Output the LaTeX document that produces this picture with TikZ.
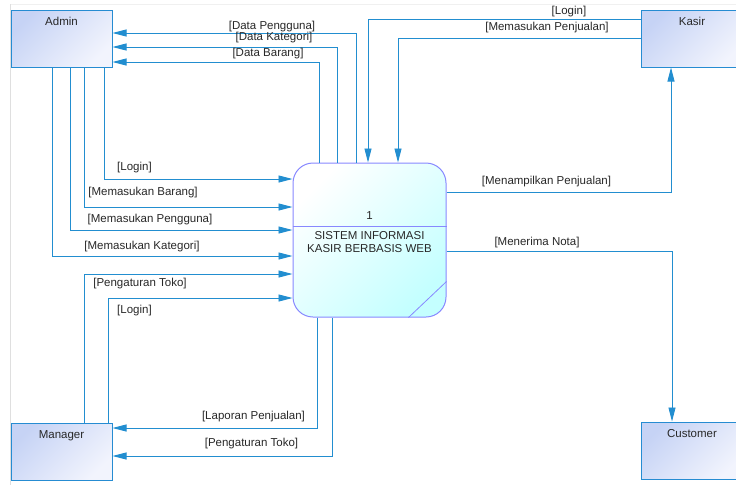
\documentclass[tikz,border=0pt]{standalone}
\usepackage{fontspec}
\setmainfont{Liberation Sans}
\usepackage{xcolor}
\usetikzlibrary{arrows.meta}

\definecolor{flowblue}{RGB}{34,142,208}
\definecolor{entborder}{RGB}{38,140,210}
\definecolor{entA}{RGB}{198,211,245}
\definecolor{entB}{RGB}{242,244,253}
\definecolor{procborder}{RGB}{136,136,255}
\definecolor{proccyan}{RGB}{196,255,255}
\definecolor{txtgray}{RGB}{40,40,40}

\begin{document}
\begin{tikzpicture}[x=1pt, y=-1pt,
  every node/.style={font=\fontsize{11.5}{13}\selectfont, text=txtgray},
  entity/.style={draw=entborder, line width=1pt, top color=entA, bottom color=entB,
    shading angle=45, minimum width=101pt, inner sep=3pt, text height=12pt, text depth=39pt},
  proc/.style={draw=procborder, line width=1pt, rounded corners=20pt, top color=white,
    bottom color=proccyan, shading angle=45, minimum width=153pt, minimum height=154pt},
  flow/.style={draw=flowblue, line width=0.9pt, -{Triangle[length=14pt,width=7pt]}},
  lbl/.style={inner sep=0pt}]

  % Frame
  \clip (0,0) rectangle (736,485);
  \fill[white] (0,0) rectangle (736,485);
  \draw[gray!25, line width=1.5pt] (10.5,4) -- (10.5,485);
  \draw[gray!12] (10.5,4) -- (736,4);

  % Entities
  \node[entity] (admin) at (61.5,38.5) {Admin};
  \node[entity] (kasir) at (692,38.5) {Kasir};
  \node[entity] (manager) at (61.5,451.5) {Manager};
  \node[entity] (customer) at (692,450.5) {Customer};

  % Process
  \node[proc] (proc) at (369.5,240) {};
  \draw[procborder, line width=0.8pt] ([yshift=14pt]proc.west) -- ([yshift=14pt]proc.east);
  \draw[procborder, line width=0.8pt] ([xshift=-38pt]proc.south east) -- ([yshift=36pt]proc.south east);
  \node (procno) at ([yshift=24pt]proc.center) {1};
  \node[align=center] (procname) at ([yshift=-2.5pt]proc.center) {SISTEM INFORMASI\\KASIR BERBASIS WEB};

  % Process -> Admin
  \draw[flow] ([xshift=-13.5pt]proc.north) |- ([yshift=5.5pt]admin.east);
  \draw[flow] ([xshift=-32.5pt]proc.north) |- ([yshift=-8.5pt]admin.east);
  \draw[flow] ([xshift=-50.5pt]proc.north) |- ([yshift=-23.5pt]admin.east);
  \node[lbl] (lDataPengguna) at (272,26.5) {[Data Pengguna]};
  \node[lbl] (lDataKategori) at (274,38) {[Data Kategori]};
  \node[lbl] (lDataBarang) at (268,54) {[Data Barang]};

  % Admin -> Process
  \draw[flow] ([xshift=42.5pt]admin.south) |- ([yshift=61pt]proc.west);
  \draw[flow] ([xshift=22.5pt]admin.south) |- ([yshift=33pt]proc.west);
  \draw[flow] ([xshift=8.5pt]admin.south) |- ([yshift=10pt]proc.west);
  \draw[flow] ([xshift=-9.5pt]admin.south) |- ([yshift=-16pt]proc.west);
  \node[lbl] (lLoginAdmin) at (134.5,167.5) {[Login]};
  \node[lbl] (lBarang) at (143,193) {[Memasukan Barang]};
  \node[lbl] (lPengguna) at (150,220) {[Memasukan Pengguna]};
  \node[lbl] (lKategori) at (142,247) {[Memasukan Kategori]};

  % Manager <-> Process
  \draw[flow] ([xshift=22.5pt]manager.north) |- ([yshift=-34pt]proc.west);
  \draw[flow] ([xshift=46.5pt]manager.north) |- ([yshift=-58pt]proc.west);
  \draw[flow] ([xshift=-52.5pt]proc.south) |- ([yshift=23.5pt]manager.east);
  \draw[flow] ([xshift=-37.5pt]proc.south) |- ([yshift=-4.5pt]manager.east);
  \node[lbl] (lTokoIn) at (140,284) {[Pengaturan Toko]};
  \node[lbl] (lLoginManager) at (134.5,310.5) {[Login]};
  \node[lbl] (lLaporan) at (253.5,416.5) {[Laporan Penjualan]};
  \node[lbl] (lTokoOut) at (251.5,444) {[Pengaturan Toko]};

  % Kasir <-> Process
  \draw[flow] ([yshift=19.2pt]kasir.west) -| ([xshift=-1.5pt]proc.north);
  \draw[flow] (kasir.west) -| ([xshift=28.5pt]proc.north);
  \draw[flow] ([yshift=48pt]proc.east) -| ([xshift=-21pt]kasir.south);
  \node[lbl] (lLoginKasir) at (569,11.5) {[Login]};
  \node[lbl] (lPenjualan) at (547,28) {[Memasukan Penjualan]};
  \node[lbl] (lTampil) at (546.5,182) {[Menampilkan Penjualan]};

  % Process -> Customer
  \draw[flow] ([yshift=-11pt]proc.east) -| ([xshift=-20pt]customer.north);
  \node[lbl] (lNota) at (537,242.5) {[Menerima Nota]};

\end{tikzpicture}
\end{document}
